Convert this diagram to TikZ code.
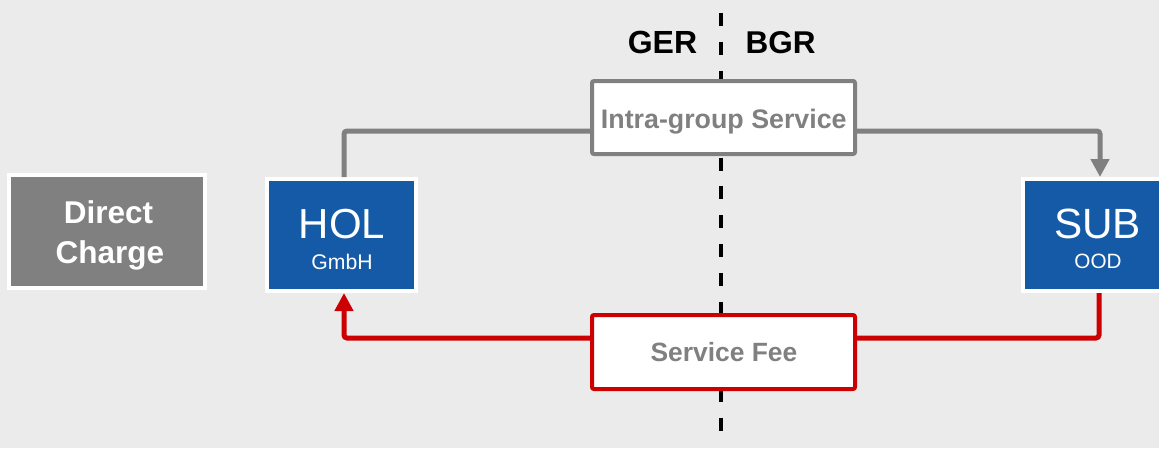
\documentclass[tikz,border=0pt]{standalone}
\usepackage{fontspec}
\setmainfont{Liberation Sans}
\usetikzlibrary{arrows.meta}
\definecolor{bg}{HTML}{EBEBEB}
\definecolor{cblue}{HTML}{155AA6}
\definecolor{cgray}{HTML}{808080}
\definecolor{cred}{HTML}{CC0000}
\newcommand{\fs}[1]{\fontsize{#1pt}{#1pt}\selectfont}
\tikzset{
  entity/.style={draw=white, line width=4pt, fill=cblue, inner sep=0pt, minimum height=112pt},
  charge/.style={draw=white, line width=4pt, fill=cgray, inner sep=0pt},
  flowbox/.style={draw=#1, line width=4pt, fill=white, rounded corners=2pt, inner sep=0pt, minimum width=263pt},
  lbl/.style={anchor=base, inner sep=0pt},
  conn/.style={line width=5pt, rounded corners=3pt, draw=#1},
  tip/.style={-{Triangle[length=18pt,width=18pt]}},
  border/.style={draw=black, line width=3.5pt, dash pattern=on 13pt off 15.9pt}
}
\begin{document}
\begin{tikzpicture}[x=1pt,y=-1pt]
\useasboundingbox (0,0) rectangle (1159,448);
\clip (0,0) rectangle (1159,448);
\fill[bg] (0,0) rectangle (1159,448);
% border line
\coordinate (btop) at (721,13);
\coordinate (bbot) at (721,432);
\draw[border] (btop) -- (bbot);
% boxes
\node[charge, minimum width=196pt, minimum height=113pt] (dc) at (107,231.5) {};
\node[entity, minimum width=149pt] (hol) at (341.5,235) {};
\node[entity, minimum width=154pt] (sub) at (1100,235) {};
\node[flowbox=cgray, minimum height=73pt] (intra) at (723.5,117.5) {};
\node[flowbox=cred, minimum height=74pt] (fee) at (723.5,352) {};
% labels
\node[lbl, text=white] (dc1) at (108.5,223) {\fs{31.5}\bfseries Direct};
\node[lbl, text=white] (dc2) at (110,263) {\fs{31.5}\bfseries Charge};
\node[lbl, text=white] (hol1) at (342,238) {\fs{42}HOL};
\node[lbl, text=white] (hol2) at (342,269) {\fs{21.2}GmbH};
\node[lbl, text=white] (sub1) at (1097.5,238) {\fs{42.3}SUB};
\node[lbl, text=white] (sub2) at (1098,268) {\fs{20.7}OOD};
\node[lbl, text=cgray] (intraL) at (723.8,128) {\fs{26.8}\bfseries Intra-group Service};
\node[lbl, text=cgray] (feeL) at (724,361.5) {\fs{26.4}\bfseries Service Fee};
\node[lbl, text=black] (ger) at (662.5,53) {\fs{32}\bfseries GER};
\node[lbl, text=black] (bgr) at (780.5,53) {\fs{31.5}\bfseries BGR};
% connector helper coordinates
\coordinate (gl) at (344,131);
\coordinate (gr) at (1100,131);
\coordinate (rl) at (344,338);
\coordinate (rr) at (1099,338);
% gray flow
\draw[conn=cgray] (hol.north -| gl) |- (intra.west |- gl);
\draw[conn=cgray, tip] (intra.east |- gr) -| (sub.north -| gr);
% red flow
\draw[conn=cred] (sub.south -| rr) |- (fee.east |- rr);
\draw[conn=cred, tip] (fee.west |- rl) -| (hol.south -| rl);
\end{tikzpicture}
\end{document}
